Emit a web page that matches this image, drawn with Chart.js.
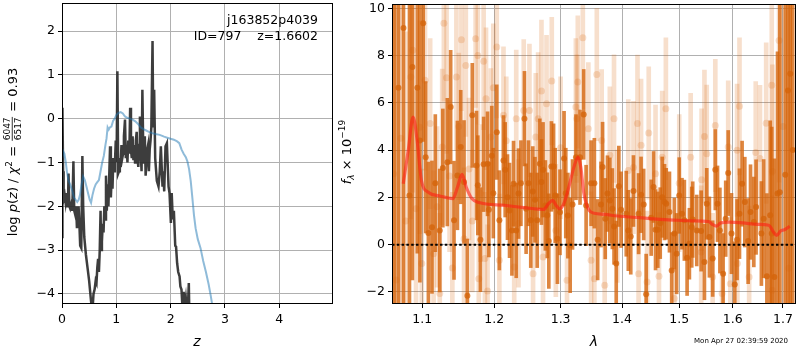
<!DOCTYPE html>
<html>
<head>
<meta charset="utf-8">
<script src="https://cdn.jsdelivr.net/npm/chart.js@4.4.0/dist/chart.umd.min.js"></script>
<style>
body { margin: 0; background: #fff; }
#wrap { position: relative; width: 800px; height: 350px; }
canvas { position: absolute; top: 0; }
#pz { left: 0; }
#spec { left: 330px; }
</style>
</head>
<body>
<div id="wrap">
  <canvas id="pz" width="340" height="350"></canvas>
  <canvas id="spec" width="470" height="350"></canvas>
</div>
<script>
// ---- p(z) panel ----
const zGrid = [
  0.0, 0.008, 0.02, 0.03, 0.05, 0.065, 0.08, 0.095, 0.11, 0.12,
  0.135, 0.15, 0.17, 0.19, 0.21, 0.225, 0.245, 0.26, 0.275, 0.29,
  0.305, 0.32, 0.335, 0.355, 0.375, 0.39, 0.41, 0.44, 0.47, 0.5,
  0.53, 0.55, 0.565, 0.58, 0.6, 0.62, 0.635, 0.65, 0.665, 0.68,
  0.695, 0.71, 0.72, 0.735, 0.75, 0.765, 0.78, 0.795, 0.81, 0.825,
  0.84, 0.855, 0.87, 0.885, 0.9, 0.915, 0.93, 0.945, 0.96, 0.975,
  0.99, 1.005, 1.02, 1.035, 1.05, 1.065, 1.08, 1.095, 1.11, 1.125,
  1.14, 1.16, 1.175, 1.19, 1.205, 1.22, 1.24, 1.255, 1.27, 1.285,
  1.3, 1.315, 1.33, 1.345, 1.36, 1.375, 1.39, 1.405, 1.42, 1.435,
  1.45, 1.465, 1.48, 1.495, 1.51, 1.525, 1.54, 1.555, 1.57, 1.585,
  1.6, 1.615, 1.63, 1.645, 1.667, 1.68, 1.697, 1.716, 1.746, 1.777,
  1.8, 1.82, 1.851, 1.866, 1.882, 1.906, 1.931, 1.962, 1.98, 2.005,
  2.02, 2.04, 2.06, 2.085, 2.1, 2.12, 2.14, 2.165, 2.18, 2.2,
  2.22, 2.24, 2.26, 2.28, 2.3, 2.32, 2.335, 2.345, 2.37
];
const logPz = [
  -2.7, 0.25, -1.2, -1.85, -1.75, -1.9, -1.7, -2.0, -1.95, -1.25,
  -2.0, -2.05, -1.95, -2.1, -0.97, -2.1, -2.2, -2.0, -2.5, -2.3,
  -2.0, -2.4, -2.9, -2.95, -0.85, -2.0, -2.7, -3.1, -3.4, -3.7,
  -4.1, -4.35, -4.3, -4.0, -3.9, -3.7, -3.75, -3.4, -3.2, -3.5,
  -3.0, -2.1, -3.0, -2.8, -2.4, -2.6, -2.0, -2.3, -1.3, -2.1,
  -1.5, -2.0, -1.3, -0.63, -1.8, -1.3, -1.6, -0.9, -1.2, -1.0,
  -0.5, -1.0, 1.08, -1.25, -1.2, -0.9, -1.1, -0.6, -0.9, -0.8,
  -0.4, -0.02, -0.9, -0.6, -1.0, -0.5, -0.8, 0.25, -0.7, -0.9,
  -0.4, -0.95, -0.6, -1.0, -0.5, -0.3, -0.9, -1.1, -0.6, 0.05,
  -0.8, -1.2, 0.66, -0.6, -1.0, -0.4, -1.3, -1.0, -0.7, -0.6,
  -1.2, -0.7, -0.5, -0.2, 1.77, -0.2, 0.66, -0.9, -1.42, -1.55,
  -1.2, -0.63, -1.55, -1.2, -1.66, -0.63, -0.56, -1.55, -1.7, -2.38,
  -1.7, -2.3, -2.1, -2.9, -2.92, -3.3, -3.5, -3.6, -3.83, -3.9,
  -4.35, -3.95, -4.3, -4.1, -4.4, -4.25, -3.75, -4.5, -4.8
];
const zPhot = [
  0.005, 0.025, 0.045, 0.07, 0.09, 0.117, 0.15, 0.19, 0.22, 0.25,
  0.28, 0.307, 0.33, 0.36, 0.39, 0.42, 0.45, 0.48, 0.51, 0.535,
  0.56, 0.59, 0.62, 0.65, 0.68, 0.71, 0.74, 0.77, 0.8, 0.82,
  0.84, 0.86, 0.88, 0.91, 0.94, 0.97, 1.0, 1.04, 1.08, 1.12,
  1.16, 1.2, 1.25, 1.3, 1.35, 1.4, 1.45, 1.5, 1.55, 1.6,
  1.66, 1.72, 1.8, 1.88, 1.95, 2.0, 2.06, 2.12, 2.16, 2.2,
  2.24, 2.28, 2.31, 2.34, 2.37, 2.4, 2.43, 2.46, 2.5, 2.55,
  2.6, 2.65, 2.7, 2.74, 2.78, 2.8
];
const logPzPhot = [
  -0.9, -0.75, -0.8, -1.0, -1.2, -1.4, -1.5, -1.65, -1.8, -1.85,
  -1.9, -1.85, -1.75, -1.5, -1.32, -1.4, -1.55, -1.7, -1.85, -1.92,
  -1.75, -1.6, -1.5, -1.45, -1.4, -1.2, -1.0, -0.85, -0.6, -0.45,
  -0.2, -0.25, -0.2, -0.18, -0.05, 0.0, 0.08, 0.13, 0.15, 0.12,
  0.05, 0.02, 0.0, -0.02, -0.06, -0.12, -0.2, -0.24, -0.27, -0.3,
  -0.33, -0.35, -0.37, -0.41, -0.44, -0.46, -0.48, -0.52, -0.56, -0.7,
  -0.8, -0.88, -0.98, -1.15, -1.42, -1.8, -2.2, -2.5, -2.75, -2.95,
  -3.25, -3.5, -3.78, -4.05, -4.35, -4.55
];
const zRange = [0, 4.99];
const pzRange = [-4.23, 2.64];

// ---- spectrum panel ----
const darkWave = [
  1.064, 1.069, 1.0755, 1.0833, 1.0871, 1.0936, 1.097, 1.1014, 1.1047, 1.1083,
  1.1131, 1.1176, 1.1236, 1.1278, 1.1339, 1.1385, 1.1431, 1.1478, 1.1524, 1.157,
  1.1617, 1.1686, 1.1746, 1.1764, 1.1801, 1.1847, 1.1903, 1.1922, 1.1964, 1.1986,
  1.2036, 1.2074, 1.2134, 1.2159, 1.2193, 1.2223, 1.2258, 1.2282, 1.2322, 1.2356,
  1.2392, 1.2445, 1.247, 1.2505, 1.254, 1.257, 1.2604, 1.2638, 1.2678, 1.2703,
  1.2727, 1.2763, 1.2792, 1.2816, 1.2856, 1.289, 1.2916, 1.295, 1.299, 1.3054,
  1.3081, 1.3114, 1.3151, 1.3188, 1.3243, 1.3308, 1.3367, 1.3406, 1.3487, 1.354,
  1.3594, 1.3649, 1.3675, 1.3719, 1.3756, 1.3795, 1.3837, 1.3865, 1.3902, 1.3946,
  1.3984, 1.4071, 1.4106, 1.4148, 1.4194, 1.4282, 1.4325, 1.437, 1.4413, 1.4501,
  1.4542, 1.4577, 1.4617, 1.466, 1.4695, 1.4736, 1.4766, 1.4824, 1.4864, 1.4912,
  1.4953, 1.5, 1.505, 1.5093, 1.5143, 1.5185, 1.5228, 1.5246, 1.532, 1.5402,
  1.5463, 1.5506, 1.5556, 1.5617, 1.5667, 1.5709, 1.5754, 1.5815, 1.5865, 1.5913,
  1.5976, 1.6039, 1.6084, 1.6131, 1.6182, 1.6235, 1.63, 1.6347, 1.6412, 1.6457,
  1.6563, 1.6608, 1.6673, 1.674, 1.6771, 1.6824, 1.6888, 1.6935, 1.7047, 1.7103,
  1.715, 1.72
];
const darkFlux = [
  -3.0, 6.64, 9.17, 2.08, 7.51, 6.64, 4.41, 9.37, 3.70, 0.49,
  0.74, 2.6, 0.6, 3.24, 3.49, 5.82, 1.03, 2.93, 4.13, 2.65,
  -2.16, 5.47, 3.35, 2.51, 0.21, 3.4, 3.42, 1.48, 3.76, 2.18,
  4.76, 1.03, 3.56, 3.17, 2.01, 1.45, 0.6, 2.58, 0.6, 2.16,
  2.6, 5.33, 1.52, 2.6, 1.03, 2.25, 1.9, 1.03, 3.42, 2.65,
  3.17, 1.66, 1.24, 0.15, 3.31, 3.31, 2.08, 0.25, 1.37, 3.64,
  2.18, 1.23, -0.03, 1.7, 3.7, 3.7, 5.51, 1.66, 2.6, 2.6,
  0.21, 1.7, 3.28, 1.1, 2.16, 1.87, 1.52, 0.77, -0.8, 2.47,
  1.48, 1.31, 0.6, 0.35, 2.27, 1.31, 2.11, 1.7, -2.1, 1.14,
  2.44, 0.63, 0.63, 0.91, 2.01, 1.8, 1.73, 1.38, -1.09, 0.47,
  -0.38, 2.08, 1.31, 1.03, -0.55, 0.04, 0.74, 1.06, 0.6, 0.58,
  -0.73, 1.73, 0.32, -0.59, 3.17, 1.73, 0.6, -1.23, 1.1, 3.03,
  0.47, -1.68, 0.21, 1.31, 2.58, 1.8, 0.15, 1.38, 0.96, 1.59,
  0.47, 1.1, -1.34, 1.24, 0.47, -1.37, 2.16, 2.22, 2.96, 6.52,
  7.23, 4.0
];
const darkErr = [
  15, 13, 12, 11, 9, 7, 6, 5, 3.2, 3.0,
  2.8, 2.9, 2.6, 2.5, 2.7, 2.4, 2.5, 2.3, 2.4, 2.6,
  2.4, 2.2, 2.3, 2.1, 2.2, 2.0, 2.2, 2.0, 2.1, 1.9,
  2.0, 2.1, 1.9, 2.0, 1.8, 2.0, 1.9, 1.8, 2.0, 1.9,
  1.8, 2.0, 1.9, 1.8, 2.0, 1.9, 1.8, 2.0, 1.9, 1.8,
  2.0, 1.9, 1.8, 2.0, 1.9, 1.8, 2.0, 1.9, 1.8, 2.0,
  1.9, 1.8, 2.0, 1.9, 1.8, 2.0, 1.9, 1.7, 1.8, 1.9,
  1.7, 1.8, 1.9, 1.7, 1.6, 1.8, 1.7, 1.6, 1.8, 1.7,
  1.6, 1.8, 1.7, 1.6, 1.5, 1.7, 1.6, 1.5, 1.7, 1.6,
  1.5, 1.7, 1.6, 1.5, 1.7, 1.6, 1.5, 1.7, 1.6, 1.5,
  1.7, 1.6, 1.5, 1.7, 1.6, 1.5, 1.7, 1.6, 1.5, 1.7,
  1.6, 1.5, 1.7, 1.6, 1.7, 1.6, 1.8, 1.7, 1.6, 1.8,
  1.7, 1.8, 1.7, 1.9, 1.8, 1.9, 1.8, 2.0, 1.9, 2.0,
  2.2, 2.5, 3.5, 4.0, 4.5, 5, 6, 8, 10, 12,
  14, 15
];
const lightWave = [
  1.0625, 1.066, 1.072, 1.0785, 1.0851, 1.0877, 1.0919, 1.097, 1.0995, 1.1038,
  1.1107, 1.1153, 1.12, 1.1236, 1.1269, 1.1292, 1.1329, 1.137, 1.1408, 1.1464,
  1.1497, 1.1533, 1.157, 1.1595, 1.164, 1.1686, 1.1733, 1.1764, 1.1778, 1.1801,
  1.1847, 1.1865, 1.1881, 1.1903, 1.195, 1.1986, 1.2036, 1.2074, 1.2134, 1.2175,
  1.2292, 1.2322, 1.2356, 1.2434, 1.252, 1.2575, 1.2616, 1.2652, 1.2703, 1.2727,
  1.2781, 1.2862, 1.2925, 1.3, 1.3101, 1.3241, 1.3257, 1.3272, 1.3353, 1.3442,
  1.3487, 1.354, 1.358, 1.366, 1.371, 1.3795, 1.3865, 1.392, 1.4106, 1.4194,
  1.4263, 1.4282, 1.4325, 1.443, 1.4458, 1.4577, 1.4638, 1.4695, 1.476, 1.4912,
  1.5, 1.5208, 1.5402, 1.541, 1.5463, 1.5506, 1.5617, 1.5667, 1.5796, 1.5913,
  1.5954, 1.6084, 1.609, 1.6131, 1.632, 1.645, 1.6535, 1.6659, 1.6771, 1.678,
  1.6785, 1.692, 1.70, 1.712
];
const lightFlux = [
  3.0, -1.5, 4.5, 1.0, 7.09, 8.22, 1.52, 4.97, -0.8, 6.95,
  5.12, -0.38, 1.6, -2.07, 4.13, 9.37, 7.06, 2.9, -0.99, 7.09,
  5.0, 8.67, 0.25, 7.58, 3.2, 1.0, 8.71, 8.0, -1.44, 2.18,
  7.76, -0.59, 6.17, -1.96, 4.55, 6.64, 8.36, -0.66, 5.47, 4.4,
  -0.95, 5.33, 0.9, 5.68, 5.68, -1.23, 4.55, 5.33, 6.5, -0.52,
  5.96, 6.92, 0.6, 4.1, -1.51, 5.82, 5.33, 6.88, 8.75, 4.9,
  -0.66, -1.44, 7.2, 4.41, -1.72, 3.78, 5.33, 1.2, 3.14, 3.26,
  5.12, -1.23, 4.2, -1.58, 4.72, 3.0, -1.34, 3.7, 5.75, -2.28,
  2.6, 3.7, -0.31, 2.75, 4.58, 3.85, -1.37, 5.04, -2.07, 4.13,
  -1.65, 3.99, -0.8, 5.85, -1.37, 3.9, 3.64, 5.14, 6.74, -1.93,
  3.11, 8.64, 5.0, -1.0
];
const lightErr = [
  14, 12, 10, 8, 6, 6, 5, 4.5, 4, 3.8,
  3.6, 3.5, 3.4, 3.4, 3.3, 3.3, 3.2, 3.2, 3.2, 3.1,
  3.1, 3.0, 3.0, 3.0, 3.0, 3.0, 2.9, 2.9, 2.9, 2.9,
  2.9, 2.8, 3.0, 2.8, 2.9, 2.7, 3.0, 2.8, 2.9, 2.7,
  2.8, 2.9, 2.7, 3.0, 2.8, 2.9, 2.7, 2.8, 3.0, 2.8,
  2.9, 2.7, 2.8, 3.0, 2.8, 2.9, 2.7, 2.8, 3.0, 2.8,
  2.9, 2.7, 2.8, 3.0, 2.8, 2.9, 2.7, 2.8, 3.0, 2.8,
  2.9, 2.7, 2.8, 3.0, 2.8, 2.9, 2.7, 2.8, 3.0, 2.8,
  2.9, 2.7, 2.8, 3.0, 2.8, 2.9, 2.7, 2.8, 3.0, 2.8,
  2.8, 2.8, 2.8, 2.9, 3.0, 3.0, 3.1, 3.4, 3.8, 4,
  4.5, 6, 10, 12
];
const modelWave = [
  1.0752, 1.0817, 1.088, 1.0934, 1.099, 1.108, 1.1235, 1.1417, 1.148, 1.1543,
  1.160, 1.168, 1.178, 1.215, 1.2435, 1.2735, 1.281, 1.2875, 1.293, 1.298,
  1.305, 1.313, 1.321, 1.3275, 1.332, 1.337, 1.3455, 1.354, 1.371, 1.400,
  1.430, 1.460, 1.4905, 1.522, 1.554, 1.561, 1.569, 1.577, 1.593, 1.620,
  1.6475, 1.671, 1.681, 1.687, 1.695, 1.703, 1.714
];
const modelFlux = [
  2.58, 3.99, 5.4, 4.4, 2.72, 2.22, 2.06, 1.95, 2.44, 2.97,
  2.44, 1.95, 1.78, 1.66, 1.57, 1.49, 1.73, 1.87, 1.66, 1.52,
  1.73, 2.44, 3.28, 3.7, 3.28, 2.16, 1.45, 1.33, 1.28, 1.19,
  1.14, 1.08, 1.04, 1.01, 0.98, 0.86, 0.78, 0.92, 0.95, 0.92,
  0.86, 0.82, 0.53, 0.39, 0.58, 0.63, 0.78
];
const waveTicks = [1.1, 1.2, 1.3, 1.4, 1.5, 1.6, 1.7];
const waveRange = [1.0607, 1.7269];
const fluxRange = [-2.51, 10.18];

const FONT = 'DejaVu Sans';
const TICK_FONT = { family: FONT, size: 12.5 };
const GRID = '#b0b0b0';
const ORANGE = 'rgba(213,100,10,0.78)';
const ORANGE_LIGHT = 'rgba(213,94,0,0.2)';
Chart.defaults.color = '#000';
Chart.defaults.font.family = FONT;

const minus = v => String(v).replace('-', '\u2212');

const frame = {
  id: 'frame',
  afterDraw(chart) {
    const { ctx, chartArea: a } = chart;
    ctx.save();
    ctx.strokeStyle = '#000';
    ctx.lineWidth = 1;
    ctx.strokeRect(Math.round(a.left) + 0.5, Math.round(a.top) + 0.5,
      Math.round(a.right - a.left) - 1, Math.round(a.bottom - a.top) - 1);
    ctx.restore();
  }
};

// draws a run of text pieces centered at (x, y), optionally rotated
function richText(ctx, parts, x, y, rotate) {
  ctx.save();
  ctx.translate(x, y);
  if (rotate) ctx.rotate(-Math.PI / 2);
  let w = 0;
  parts.forEach(p => {
    ctx.font = p.f;
    p.w = p.frac
      ? Math.max(ctx.measureText(p.frac[0]).width, ctx.measureText(p.frac[1]).width) + 3
      : ctx.measureText(p.t).width;
    w += p.w;
  });
  let cx = -w / 2;
  ctx.fillStyle = '#000';
  ctx.textBaseline = 'alphabetic';
  parts.forEach(p => {
    ctx.font = p.f;
    if (p.frac) {
      ctx.textAlign = 'center';
      ctx.fillText(p.frac[0], cx + p.w / 2, -7);
      ctx.fillText(p.frac[1], cx + p.w / 2, 4);
      ctx.fillRect(cx + 1, -5.2, p.w - 2, 0.8);
    } else {
      ctx.textAlign = 'left';
      ctx.fillText(p.t, cx, p.dy || 0);
    }
    cx += p.w;
  });
  ctx.restore();
}

const big = '13px "DejaVu Sans"';
const ital = 'italic 13px "DejaVu Sans"';
const small = '9px "DejaVu Sans"';

const pzText = {
  id: 'pzText',
  afterDraw(chart) {
    const ctx = chart.ctx;
    richText(ctx, [
      { t: 'log ', f: big }, { t: 'p', f: ital }, { t: '(', f: big }, { t: 'z', f: ital },
      { t: ') / ', f: big }, { t: '\u03c7', f: ital }, { t: '2', f: small, dy: -5 },
      { t: ' = ', f: big }, { frac: ['6047', '6517'], f: small }, { t: ' = 0.93', f: big }
    ], 17, 152, true);
    ctx.save();
    ctx.fillStyle = '#000';
    ctx.font = '12.5px "DejaVu Sans"';
    ctx.textAlign = 'right';
    ctx.fillText('j163852p4039', 318, 24);
    ctx.fillText('ID=797    z=1.6602', 318, 39.5);
    ctx.font = 'italic 14px "DejaVu Sans"';
    ctx.textAlign = 'center';
    ctx.fillText('z', 197, 346);
    ctx.restore();
  }
};

const specText = {
  id: 'specText',
  afterDraw(chart) {
    const ctx = chart.ctx;
    richText(ctx, [
      { t: 'f', f: ital }, { t: '\u03bb', f: 'italic 9px "DejaVu Sans"', dy: 3 },
      { t: ' \u00d7 10', f: big }, { t: '\u221219', f: small, dy: -6 }
    ], 21, 152, true);
    ctx.save();
    ctx.fillStyle = '#000';
    ctx.font = 'italic 14px "DejaVu Sans"';
    ctx.textAlign = 'center';
    ctx.fillText('\u03bb', 264, 346);
    ctx.font = '7px "DejaVu Sans"';
    ctx.textAlign = 'right';
    ctx.fillText('Mon Apr 27 02:39:59 2020', 458, 343);
    ctx.restore();
  }
};

function axisX(extra) {
  return Object.assign({
    offset: false,
    grid: { color: GRID, lineWidth: 1, tickColor: '#000', tickLength: 4, offset: false },
    border: { display: false },
    ticks: { font: TICK_FONT, padding: 4, maxRotation: 0, autoSkip: false, includeBounds: false },
    afterFit(s) { s.height = 46; s.paddingLeft = 0; s.paddingRight = 0; }
  }, extra);
}
function axisY(extra) {
  return Object.assign({
    grid: { color: GRID, lineWidth: 1, tickColor: '#000', tickLength: 4 },
    border: { display: false },
    ticks: { font: TICK_FONT, padding: 3, includeBounds: false, stepSize: 1, callback: minus },
    afterFit(s) { s.width = 62; s.paddingTop = 0; s.paddingBottom = 0; }
  }, extra);
}

new Chart(document.getElementById('pz'), {
  type: 'line',
  data: {
    datasets: [
      {
        data: zPhot.map((z, i) => ({ x: z, y: logPzPhot[i] })),
        borderColor: 'rgba(31,119,180,0.5)', borderWidth: 2, pointRadius: 0, clip: 0
      },
      {
        data: zGrid.map((z, i) => ({ x: z, y: logPz[i] })),
        borderColor: 'rgba(40,40,40,0.9)', borderWidth: 2.5, pointRadius: 0, clip: 0
      }
    ]
  },
  options: {
    responsive: false,
    animation: false,
    layout: { padding: { left: 0, top: 3, right: 7, bottom: 0 } },
    plugins: { legend: { display: false }, tooltip: { enabled: false } },
    scales: {
      x: axisX({
        type: 'linear', min: zRange[0], max: zRange[1],
        ticks: { font: TICK_FONT, padding: 4, maxRotation: 0, includeBounds: false, stepSize: 1 }
      }),
      y: axisY({ type: 'linear', min: pzRange[0], max: pzRange[1] })
    }
  },
  plugins: [frame, pzText]
});

const errBars = (w, f, e) => w.map((x, i) => ({ x: x, y: [f[i] - e[i], f[i] + e[i]] }));
const points = (w, f) => w.map((x, i) => ({ x: x, y: f[i] }));

new Chart(document.getElementById('spec'), {
  type: 'scatter',
  data: {
    datasets: [
      {
        type: 'line', order: 0,
        data: [{ x: waveRange[0], y: 0 }, { x: waveRange[1], y: 0 }],
        borderColor: '#000', borderWidth: 2, borderDash: [2.5, 2.3], pointRadius: 0, clip: 0
      },
      {
        type: 'line', order: 1,
        data: points(modelWave, modelFlux),
        borderColor: 'rgba(255,30,20,0.6)', borderWidth: 3.2, pointRadius: 0,
        cubicInterpolationMode: 'monotone', clip: 0
      },
      {
        order: 2, data: points(darkWave, darkFlux),
        pointRadius: 3, pointBorderWidth: 0, backgroundColor: ORANGE, borderColor: ORANGE, clip: 0
      },
      {
        type: 'bar', order: 3, grouped: false, data: errBars(darkWave, darkFlux, darkErr),
        backgroundColor: ORANGE, borderWidth: 0, barThickness: 3
      },
      {
        order: 4, data: points(lightWave, lightFlux),
        pointRadius: 3.5, pointBorderWidth: 0, backgroundColor: ORANGE_LIGHT, borderColor: ORANGE_LIGHT, clip: 0
      },
      {
        type: 'bar', order: 5, grouped: false, data: errBars(lightWave, lightFlux, lightErr),
        backgroundColor: ORANGE_LIGHT, borderWidth: 0, barThickness: 4
      }
    ]
  },
  options: {
    responsive: false,
    animation: false,
    layout: { padding: { left: 0, top: 3, right: 1, bottom: 0 } },
    plugins: { legend: { display: false }, tooltip: { enabled: false } },
    scales: {
      x: axisX({
        type: 'logarithmic', min: waveRange[0], max: waveRange[1],
        ticks: { font: TICK_FONT, padding: 4, maxRotation: 0, autoSkip: false, callback: v => Number(v).toFixed(1) },
        afterBuildTicks(s) { s.ticks = waveTicks.map(v => ({ value: v })); }
      }),
      y: axisY({
        type: 'linear', min: fluxRange[0], max: fluxRange[1],
        ticks: { font: TICK_FONT, padding: 3, includeBounds: false, stepSize: 2, callback: minus }
      })
    }
  },
  plugins: [frame, specText]
});
</script>
</body>
</html>
